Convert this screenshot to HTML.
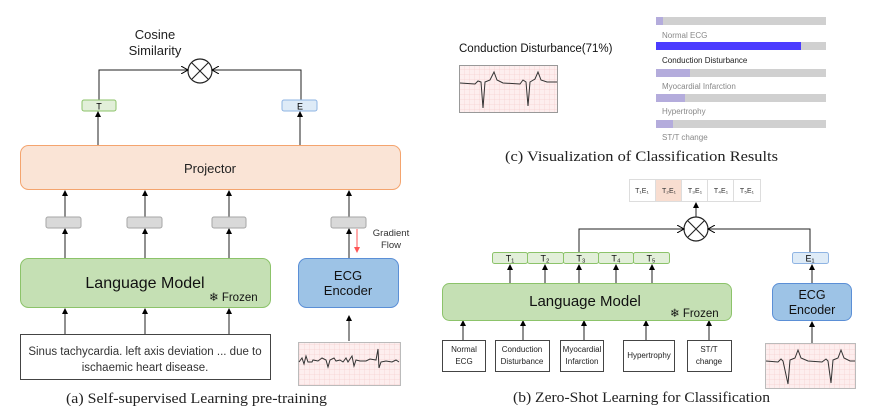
<!DOCTYPE html>
<html><head><meta charset="utf-8"><style>
html,body{margin:0;padding:0;background:#fff;}
svg{display:block;}
.s{font-family:"Liberation Sans","DejaVu Sans",sans-serif;}
.r{font-family:"Liberation Serif","DejaVu Serif",serif;}
</style></head><body>
<svg width="886" height="418" viewBox="0 0 886 418" xmlns="http://www.w3.org/2000/svg">
<defs>
<marker id="a" markerWidth="6" markerHeight="6" refX="5" refY="3" orient="auto" markerUnits="userSpaceOnUse"><path d="M0,0L6,3L0,6z" fill="#000"/></marker>
<marker id="o" markerWidth="8" markerHeight="8" refX="7" refY="4" orient="auto" markerUnits="userSpaceOnUse"><path d="M0,0L7,4L0,8" fill="none" stroke="#000" stroke-width="1"/></marker>
<marker id="rd" markerWidth="6" markerHeight="6" refX="5" refY="3" orient="auto" markerUnits="userSpaceOnUse"><path d="M0,0L6,3L0,6z" fill="#f55"/></marker>
<pattern id="g" width="5" height="5" patternUnits="userSpaceOnUse"><rect width="5" height="5" fill="#fdeeee"/><path d="M5,0V5H0" fill="none" stroke="#f4c2c2" stroke-width="0.5"/></pattern>
</defs>

<!-- ===== Panel (a) ===== -->
<text class="s" x="155" y="39" font-size="13" text-anchor="middle" fill="#222">Cosine</text>
<text class="s" x="155" y="55" font-size="13" text-anchor="middle" fill="#222">Similarity</text>
<circle cx="200" cy="71" r="12" fill="#fff" stroke="#222" stroke-width="1.2"/>
<path d="M192,63L208,79M208,63L192,79" stroke="#222" stroke-width="1.1"/>
<path d="M99,100V70H188" fill="none" stroke="#222" stroke-width="1" marker-end="url(#o)"/>
<path d="M301,100V70H212" fill="none" stroke="#222" stroke-width="1" marker-end="url(#o)"/>
<rect x="82" y="100" width="34" height="11" rx="2" fill="#e2efd9" stroke="#8cc36a"/>
<text class="s" x="99" y="109.5" font-size="9" text-anchor="middle">T</text>
<rect x="282" y="100" width="35" height="11" rx="2" fill="#deebf7" stroke="#8fb4e3"/>
<text class="s" x="300" y="109.5" font-size="9" text-anchor="middle">E</text>
<line x1="98" y1="145" x2="98" y2="112" stroke="#222" marker-end="url(#a)"/>
<line x1="300" y1="145" x2="300" y2="112" stroke="#222" marker-end="url(#a)"/>
<rect x="20.5" y="145.5" width="380" height="44" rx="8" fill="#fae4d6" stroke="#f4a46e"/>
<text class="s" x="210" y="173" font-size="13" text-anchor="middle" fill="#222">Projector</text>
<g stroke="#222">
<line x1="65" y1="217" x2="65" y2="191" marker-end="url(#a)"/>
<line x1="145" y1="217" x2="145" y2="191" marker-end="url(#a)"/>
<line x1="229" y1="217" x2="229" y2="191" marker-end="url(#a)"/>
<line x1="349" y1="217" x2="349" y2="191" marker-end="url(#a)"/>
<line x1="65" y1="258" x2="65" y2="229" marker-end="url(#a)"/>
<line x1="145" y1="258" x2="145" y2="229" marker-end="url(#a)"/>
<line x1="229" y1="258" x2="229" y2="229" marker-end="url(#a)"/>
<line x1="349" y1="258" x2="349" y2="229" marker-end="url(#a)"/>
</g>
<g fill="#d9d9d9" stroke="#a6a6a6">
<rect x="46" y="217" width="35" height="11" rx="2"/>
<rect x="127" y="217" width="35" height="11" rx="2"/>
<rect x="212" y="217" width="34" height="11" rx="2"/>
<rect x="331" y="217" width="35" height="11" rx="2"/>
</g>
<line x1="357" y1="229" x2="357" y2="252" stroke="#f55" marker-end="url(#rd)"/>
<text class="s" x="391" y="236" font-size="9.5" text-anchor="middle" fill="#333">Gradient</text>
<text class="s" x="391" y="248" font-size="9.5" text-anchor="middle" fill="#333">Flow</text>
<rect x="20.5" y="258.5" width="250" height="49" rx="8" fill="#c5e0b4" stroke="#8cc36a"/>
<text class="s" x="145" y="288" font-size="16" text-anchor="middle" fill="#111">Language Model</text>
<text class="s" x="209" y="301" font-size="11.5" fill="#111">❄ Frozen</text>
<rect x="298.5" y="258.5" width="100" height="49" rx="8" fill="#9dc3e6" stroke="#5b8fd6"/>
<text class="s" x="348" y="280" font-size="13" text-anchor="middle" fill="#111">ECG</text>
<text class="s" x="348" y="295" font-size="13" text-anchor="middle" fill="#111">Encoder</text>
<g stroke="#222">
<line x1="65" y1="334" x2="65" y2="309" marker-end="url(#a)"/>
<line x1="145" y1="334" x2="145" y2="309" marker-end="url(#a)"/>
<line x1="229" y1="334" x2="229" y2="309" marker-end="url(#a)"/>
<line x1="349" y1="341" x2="349" y2="316" marker-end="url(#a)"/>
</g>
<rect x="20.5" y="334.5" width="250" height="45" fill="#fff" stroke="#444"/>
<text class="s" x="145" y="355" font-size="11.5" text-anchor="middle" fill="#333">Sinus tachycardia. left axis deviation ... due to</text>
<text class="s" x="145" y="371" font-size="11.5" text-anchor="middle" fill="#333">ischaemic heart disease.</text>
<rect x="298.5" y="342.5" width="102" height="43" fill="url(#g)" stroke="#bbb"/>
<path d="M299,362L302,358L304,364L306,356L308,362L312,362L313,360L318,361L322,358L326,360L328,367L330,360L334,358L336,361L340,360L343,362L346,358L348,362L352,356L354,366L356,360L360,361L366,361L370,359L376,360L378,349L379,368L381,362L386,361L392,362L396,360L399,362" fill="none" stroke="#333" stroke-width="1"/>
<text class="r" x="66" y="403" font-size="15" textLength="261" lengthAdjust="spacingAndGlyphs" fill="#222">(a) Self-supervised Learning pre-training</text>

<!-- ===== Panel (c) ===== -->
<text class="s" x="459" y="52" font-size="11.5" fill="#111">Conduction Disturbance(71%)</text>
<rect x="459.5" y="65.5" width="98" height="47" fill="url(#g)" stroke="#999"/>
<path d="M460,83L475,84L478,81L481,82L483,108L485,82L490,80L494,72L497,80L503,83L520,84L523,80L526,82L528,106L530,82L535,79L538,72L541,80L547,82L557,82" fill="none" stroke="#333" stroke-width="1"/>
<g>
<rect x="656" y="17" width="170" height="8" fill="#d0d0d0"/><rect x="656" y="17" width="7" height="8" fill="#b4acdc"/>
<rect x="656" y="42" width="170" height="8" fill="#d0d0d0"/><rect x="656" y="42" width="145" height="8" fill="#4b3cff"/>
<rect x="656" y="69" width="170" height="8" fill="#d0d0d0"/><rect x="656" y="69" width="34" height="8" fill="#b4acdc"/>
<rect x="656" y="94" width="170" height="8" fill="#d0d0d0"/><rect x="656" y="94" width="29" height="8" fill="#b4acdc"/>
<rect x="656" y="120" width="170" height="8" fill="#d0d0d0"/><rect x="656" y="120" width="17" height="8" fill="#b4acdc"/>
</g>
<g class="s" font-size="8" fill="#888">
<text x="662" y="38">Normal ECG</text>
<text x="662" y="63" fill="#222">Conduction Disturbance</text>
<text x="662" y="89">Myocardial Infarction</text>
<text x="662" y="114">Hypertrophy</text>
<text x="662" y="140">ST/T change</text>
</g>
<text class="r" x="505" y="161" font-size="15" textLength="273" lengthAdjust="spacingAndGlyphs" fill="#222">(c) Visualization of Classification Results</text>

<!-- ===== Panel (b) ===== -->
<g class="s" font-size="7" text-anchor="middle" fill="#333">
<rect x="629.5" y="179.5" width="131" height="22" fill="#fff" stroke="#ddd"/>
<rect x="656" y="180" width="26" height="21" fill="#f8ddd0"/>
<path d="M655.5,180V201M681.5,180V201M707.5,180V201M733.5,180V201" stroke="#ddd"/>
<text x="642" y="193">T₁E₁</text><text x="669" y="193">T₂E₁</text><text x="695" y="193">T₃E₁</text><text x="721" y="193">T₄E₁</text><text x="747" y="193">T₅E₁</text>
</g>
<circle cx="696" cy="229" r="12" fill="#fff" stroke="#222" stroke-width="1.2"/>
<path d="M688,221L704,237M704,221L688,237" stroke="#222" stroke-width="1.1"/>
<line x1="696" y1="217" x2="696" y2="203" stroke="#222" marker-end="url(#a)"/>
<path d="M579,252V229H684" fill="none" stroke="#222" marker-end="url(#o)"/>
<path d="M810,252V229H708" fill="none" stroke="#222" marker-end="url(#o)"/>
<g fill="#e2efd9" stroke="#8cc36a">
<rect x="492.5" y="252.5" width="35" height="11" rx="2"/>
<rect x="527.5" y="252.5" width="36" height="11" rx="2"/>
<rect x="563.5" y="252.5" width="35" height="11" rx="2"/>
<rect x="598.5" y="252.5" width="35" height="11" rx="2"/>
<rect x="633.5" y="252.5" width="36" height="11" rx="2"/>
</g>
<g class="s" font-size="9" text-anchor="middle" fill="#111">
<text x="510" y="261.5">T₁</text><text x="545" y="261.5">T₂</text><text x="581" y="261.5">T₃</text><text x="616" y="261.5">T₄</text><text x="651" y="261.5">T₅</text>
</g>
<rect x="792.5" y="252.5" width="36" height="11" rx="2" fill="#deebf7" stroke="#8fb4e3"/>
<text class="s" x="810" y="261.5" font-size="9" text-anchor="middle">E₁</text>
<g stroke="#222">
<line x1="510" y1="283" x2="510" y2="265" marker-end="url(#a)"/>
<line x1="545" y1="283" x2="545" y2="265" marker-end="url(#a)"/>
<line x1="579" y1="283" x2="579" y2="265" marker-end="url(#a)"/>
<line x1="616" y1="283" x2="616" y2="265" marker-end="url(#a)"/>
<line x1="652" y1="283" x2="652" y2="265" marker-end="url(#a)"/>
<line x1="812" y1="283" x2="812" y2="265" marker-end="url(#a)"/>
<line x1="463" y1="340" x2="463" y2="321" marker-end="url(#a)"/>
<line x1="523" y1="340" x2="523" y2="321" marker-end="url(#a)"/>
<line x1="584" y1="340" x2="584" y2="321" marker-end="url(#a)"/>
<line x1="646" y1="340" x2="646" y2="321" marker-end="url(#a)"/>
<line x1="709" y1="340" x2="709" y2="321" marker-end="url(#a)"/>
<line x1="812" y1="343" x2="812" y2="322" marker-end="url(#a)"/>
</g>
<rect x="442.5" y="283.5" width="289" height="37" rx="7" fill="#c5e0b4" stroke="#8cc36a"/>
<text class="s" x="585" y="306" font-size="15" text-anchor="middle" fill="#111">Language Model</text>
<text class="s" x="670" y="317" font-size="11.5" fill="#111">❄ Frozen</text>
<rect x="772.5" y="283.5" width="79" height="37" rx="7" fill="#9dc3e6" stroke="#5b8fd6"/>
<text class="s" x="812" y="299" font-size="12.5" text-anchor="middle" fill="#111">ECG</text>
<text class="s" x="812" y="314" font-size="12.5" text-anchor="middle" fill="#111">Encoder</text>
<g fill="#fff" stroke="#444">
<rect x="442.5" y="340.5" width="43" height="31"/>
<rect x="495.5" y="340.5" width="54" height="31"/>
<rect x="560.5" y="340.5" width="43" height="31"/>
<rect x="623.5" y="340.5" width="51" height="31"/>
<rect x="687.5" y="340.5" width="44" height="31"/>
</g>
<g class="s" font-size="8" text-anchor="middle" fill="#222">
<text x="464" y="352">Normal</text><text x="464" y="364">ECG</text>
<text x="522" y="352">Conduction</text><text x="522" y="364">Disturbance</text>
<text x="582" y="352">Myocardial</text><text x="582" y="364">Infarction</text>
<text x="649" y="358">Hypertrophy</text>
<text x="709" y="352">ST/T</text><text x="709" y="364">change</text>
</g>
<rect x="765.5" y="343.5" width="90" height="45" fill="url(#g)" stroke="#bbb"/>
<path d="M766,361L778,362L781,359L783,361L788,384L790,360L795,358L798,350L801,358L808,361L822,362L826,359L828,361L831,383L833,360L838,358L841,350L844,358L850,361L855,361" fill="none" stroke="#333" stroke-width="1"/>
<text class="r" x="513" y="402" font-size="15" textLength="257" lengthAdjust="spacingAndGlyphs" fill="#222">(b) Zero-Shot Learning for Classification</text>
</svg>
</body></html>
